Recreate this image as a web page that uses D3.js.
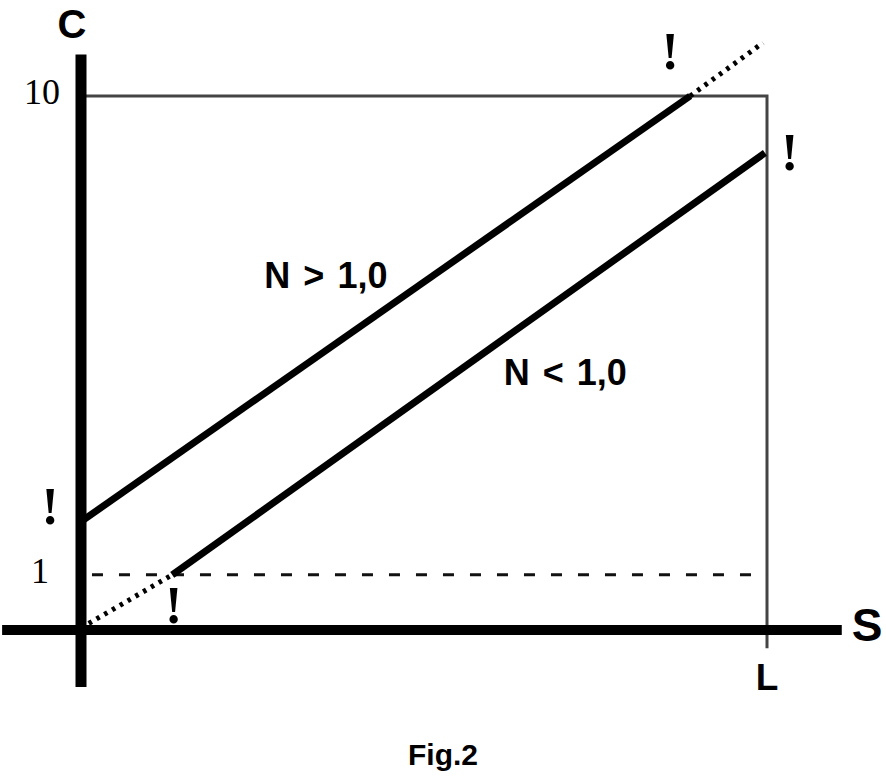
<!DOCTYPE html>
<html>
<head>
<meta charset="utf-8">
<script src="https://cdn.jsdelivr.net/npm/d3@7"></script>
<style>
  body { margin: 0; background: #fff; }
  svg { display: block; }
</style>
</head>
<body>
<svg id="fig"></svg>
<script>
// axis ticks (C axis) and the S-axis end mark
const cTicks = [1, 10];
const sLimit = 10;               // L
const sLimitLabel = 'L';

// the two regime lines, [S, C]
const upperSolid = [[0, 2.0], [8.88, 10]];
const upperDotted = [[8.88, 10], [9.94, 11.0]];
const lowerSolid = [[1.33, 1.0], [9.97, 8.93]];
const lowerDotted = [[0, 0], [1.33, 1.0]];

const lineLabels = [
    { text: 'N > 1,0', s: 3.57, c: 6.4 },
    { text: 'N < 1,0', s: 7.06, c: 4.57 }
];

// "!" marks at the critical points
const marks = [
    { s: 8.59, c: 10.5 },
    { s: 10.33, c: 8.6 },
    { s: -0.45, c: 1.95 },
    { s: 1.35, c: 0.09 }
];

const width = 886;
const height = 779;

const x = d3.scaleLinear().domain([0, sLimit]).range([81, 767]);
const y = d3.scaleLinear().domain([0, 10]).range([628, 96]);

const svg = d3.select('#fig')
    .attr('width', width)
    .attr('height', height);

const line = d3.line()
    .x(d => x(d[0]))
    .y(d => y(d[1]));

// frame: top at C=10, right at S=L
svg.append('path')
    .attr('d', line([[0, 10], [sLimit, 10], [sLimit, -0.38]]))
    .attr('fill', 'none')
    .attr('stroke', '#444')
    .attr('stroke-width', 3);

// dashed level C=1
svg.append('line')
    .attr('x1', x(0.16))
    .attr('x2', x(sLimit))
    .attr('y1', y(1))
    .attr('y2', y(1))
    .attr('stroke', '#111')
    .attr('stroke-width', 3)
    .attr('stroke-dasharray', '11,16');

// thick axes
svg.append('line')
    .attr('x1', x(-1.15))
    .attr('x2', x(11.09))
    .attr('y1', y(0) + 2)
    .attr('y2', y(0) + 2)
    .attr('stroke', '#000')
    .attr('stroke-width', 10);

svg.append('line')
    .attr('x1', x(0))
    .attr('x2', x(0))
    .attr('y1', y(10.78))
    .attr('y2', y(-1.11))
    .attr('stroke', '#000')
    .attr('stroke-width', 11);

// regime lines
[upperSolid, lowerSolid].forEach(pts => {
    svg.append('path')
        .attr('d', line(pts))
        .attr('fill', 'none')
        .attr('stroke', '#000')
        .attr('stroke-width', 7);
});

[upperDotted, lowerDotted].forEach(pts => {
    svg.append('path')
        .attr('d', line(pts))
        .attr('fill', 'none')
        .attr('stroke', '#000')
        .attr('stroke-width', 5)
        .attr('stroke-dasharray', '3.5,5.5');
});

// tick labels (serif)
svg.selectAll('.tick-label')
    .data(cTicks)
    .enter()
    .append('text')
    .attr('class', 'tick-label')
    .attr('x', d => d === 10 ? 60 : 49)
    .attr('y', d => y(d) + 8)
    .style('font-family', '"Liberation Serif", "Times New Roman", serif')
    .style('font-size', '36px')
    .style('text-anchor', 'end')
    .text(d => d);

const sans = 'Liberation Sans, Arial, Helvetica, sans-serif';

// axis titles
svg.append('text')
    .attr('x', 72)
    .attr('y', 38)
    .style('font-family', sans)
    .style('font-weight', 'bold')
    .style('font-size', '40px')
    .style('text-anchor', 'middle')
    .text('C');

svg.append('text')
    .attr('x', 867)
    .attr('y', 641)
    .style('font-family', sans)
    .style('font-weight', 'bold')
    .style('font-size', '46px')
    .style('text-anchor', 'middle')
    .text('S');

svg.append('text')
    .attr('x', x(sLimit))
    .attr('y', 690)
    .style('font-family', sans)
    .style('font-weight', 'bold')
    .style('font-size', '37px')
    .style('text-anchor', 'middle')
    .text(sLimitLabel);

// line labels
svg.selectAll('.n-label')
    .data(lineLabels)
    .enter()
    .append('text')
    .attr('class', 'n-label')
    .attr('x', d => x(d.s))
    .attr('y', d => y(d.c))
    .style('font-family', sans)
    .style('font-weight', 'bold')
    .style('font-size', '36px')
    .style('word-spacing', '3px')
    .style('text-anchor', 'middle')
    .text(d => d.text);

// exclamation marks
svg.selectAll('.mark')
    .data(marks)
    .enter()
    .append('text')
    .attr('class', 'mark')
    .attr('x', d => x(d.s))
    .attr('y', d => y(d.c))
    .style('font-family', '"Liberation Serif", "Times New Roman", serif')
    .style('font-weight', 'bold')
    .style('font-size', '52px')
    .style('text-anchor', 'middle')
    .text('!');

// caption
svg.append('text')
    .attr('x', 443)
    .attr('y', 765)
    .style('font-family', sans)
    .style('font-weight', 'bold')
    .style('font-size', '30px')
    .style('text-anchor', 'middle')
    .text('Fig.2');
</script>
</body>
</html>
